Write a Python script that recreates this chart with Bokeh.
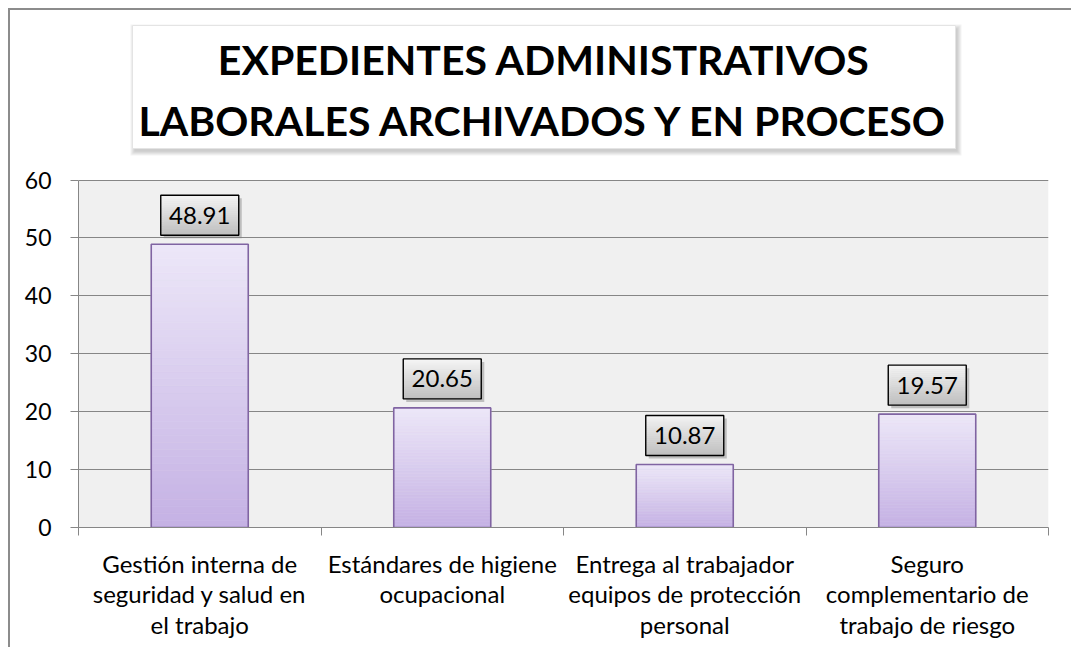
import numpy as np
from bokeh.plotting import figure
from bokeh.models import Range1d, FixedTicker, BoxAnnotation
from bokeh.core.properties import value
from bokeh.embed import file_html
from bokeh.resources import INLINE

# ---------------- data ----------------
categories = [
    "Gestión interna de\nseguridad y salud en\nel trabajo",
    "Estándares de higiene\nocupacional",
    "Entrega al trabajador\nequipos de protección\npersonal",
    "Seguro\ncomplementario de\ntrabajo de riesgo",
]
values = [48.91, 20.65, 10.87, 19.57]
value_labels = ["48.91", "20.65", "10.87", "19.57"]
y_ticks = [0, 10, 20, 30, 40, 50, 60]
title_lines = ["EXPEDIENTES ADMINISTRATIVOS", "LABORALES ARCHIVADOS Y EN PROCESO"]

# ---------------- layout (canvas starts at page x=10, y=10) ----------------
OX, OY = 10, 10
W, H = 1066, 639
PL, PR = 78, 1048          # page x of plot area left / right
P0, P60 = 527, 179.5       # page y of value 0 and value 60
PTOP = 18                  # page y of frame top (title lives inside frame)
BL = PL - OX
BR = W - (PR - OX)
BB = H - (P0 - OY)
BT = PTOP - OY
frame_w = W - BL - BR
frame_h = H - BT - BB
n = len(categories)
YMAX = 60
ppu_y = (P0 - P60) / YMAX
ppu_x = frame_w / n
y_end = frame_h / ppu_y
FONT = "Lato"
GRID = "#868686"

def X(px):  # page pixel -> data x
    return (px - PL) / ppu_x

def Y(py):  # page pixel -> data y
    return (P0 - py) / ppu_y

p = figure(width=W, height=H, x_range=Range1d(0, n), y_range=Range1d(0, y_end),
           output_backend="svg", toolbar_location=None, title=None,
           min_border_left=BL, min_border_right=BR, min_border_top=BT, min_border_bottom=BB,
           background_fill_color="white", border_fill_color="white",
           outline_line_color=None)
p.styles = {"margin-left": f"{OX}px", "margin-top": f"{OY}px",
            "box-shadow": "-2px -2px 0 0 #8c8c8c"}

# gray plot area (0..60)
p.add_layout(BoxAnnotation(left=0, right=n, bottom=0, top=YMAX, level="image",
                           fill_color="#f0f0f0", fill_alpha=1.0, line_color=None))

# grid
p.xgrid.visible = False
p.ygrid.ticker = FixedTicker(ticks=y_ticks)
p.ygrid.grid_line_color = GRID
p.ygrid.grid_line_width = 1

# y axis
ya = p.yaxis[0]
ya.ticker = FixedTicker(ticks=y_ticks)
ya.bounds = (0, YMAX)
ya.axis_line_color = GRID
ya.major_tick_line_color = GRID
ya.major_tick_out = 8
ya.major_tick_in = 0
ya.minor_tick_line_color = None
ya.major_label_text_font = FONT
ya.major_label_text_font_size = "23px"
ya.major_label_text_color = "black"
ya.major_label_standoff = 19

# x axis: labels at centres, tick marks at category boundaries
centers = [i + 0.5 for i in range(n)]
xa = p.xaxis[0]
xa.ticker = FixedTicker(ticks=centers, minor_ticks=list(range(n + 1)))
xa.major_label_overrides = {c: lab for c, lab in zip(centers, categories)}
xa.axis_line_color = GRID
xa.major_tick_out = 0
xa.major_tick_in = 0
xa.major_tick_line_color = None
xa.minor_tick_line_color = GRID
xa.minor_tick_out = 8
xa.minor_tick_in = 0
xa.major_label_text_font = FONT
xa.major_label_text_font_size = "24px"
xa.major_label_text_color = "black"
xa.major_label_text_line_height = 1.06
xa.major_label_standoff = 13

# ---------------- bars with vertical gradient ----------------
def lerp(c1, c2, t):
    return "#%02x%02x%02x" % tuple(int(round(a + (b - a) * t)) for a, b in zip(c1, c2))

BAR_TOP = (237, 231, 248)
BAR_BOT = (196, 177, 228)
NS = 40
bw = 0.4
L, R, B, T, C = [], [], [], [], []
for cx, v in zip(centers, values):
    for k in range(NS):
        L.append(cx - bw / 2); R.append(cx + bw / 2)
        B.append(v * k / NS); T.append(v * (k + 1) / NS)
        C.append(lerp(BAR_BOT, BAR_TOP, (k + 0.5) / NS))
p.quad(left=L, right=R, bottom=B, top=T, fill_color=C, line_color=C, line_width=0.6)
p.vbar(x=centers, top=values, width=bw, fill_color=None, line_color="#8064a2", line_width=1.6)

# ---------------- value label boxes ----------------
box_w = 78 / ppu_x
box_h = 40 / ppu_y
gap = 9 / ppu_y
ycent = [v + gap + box_h / 2 for v in values]
p.rect(x=[c + 3 / ppu_x for c in centers], y=[y - 3 / ppu_y for y in ycent],
       width=box_w, height=box_h, fill_color="#808080", fill_alpha=0.45, line_color=None)
LB_TOP = (245, 245, 245)
LB_BOT = (190, 190, 190)
NB = 20
bx, by, bc = [], [], []
for c, yc in zip(centers, ycent):
    for k in range(NB):
        bx.append(c)
        by.append(yc - box_h / 2 + box_h * (k + 0.5) / NB)
        bc.append(lerp(LB_BOT, LB_TOP, (k + 0.5) / NB))
p.rect(x=bx, y=by, width=box_w, height=box_h / NB, fill_color=bc, line_color=bc, line_width=0.6)
p.rect(x=centers, y=ycent, width=box_w, height=box_h, fill_color=None,
       line_color="black", line_width=1.4)
p.text(x=centers, y=ycent, text=value_labels, text_align="center", text_baseline="middle",
       text_font=value(FONT), text_font_size="24px", text_color="black")

# ---------------- title box with soft shadow ----------------
TL, TR, TT, TB = 132, 955, 25, 148
for s in range(5):
    p.quad(left=[X(TL + 2 - s)], right=[X(TR + 2 + s)],
           top=[Y(TT + 3 - s)], bottom=[Y(TB + 3 + s)],
           fill_color="#606060", fill_alpha=0.07, line_color=None)
p.quad(left=[X(TL)], right=[X(TR)], top=[Y(TT)], bottom=[Y(TB)],
       fill_color="white", line_color="#e4e4e4", line_width=1)
p.text(x=[X((TL + TR) / 2)] * 2, y=[Y(59), Y(120)], text=title_lines,
       text_align="center", text_baseline="middle",
       text_font=value(FONT), text_font_size="41px", text_font_style="bold",
       text_color="black")

open("out.html", "w").write(file_html(p, INLINE))
